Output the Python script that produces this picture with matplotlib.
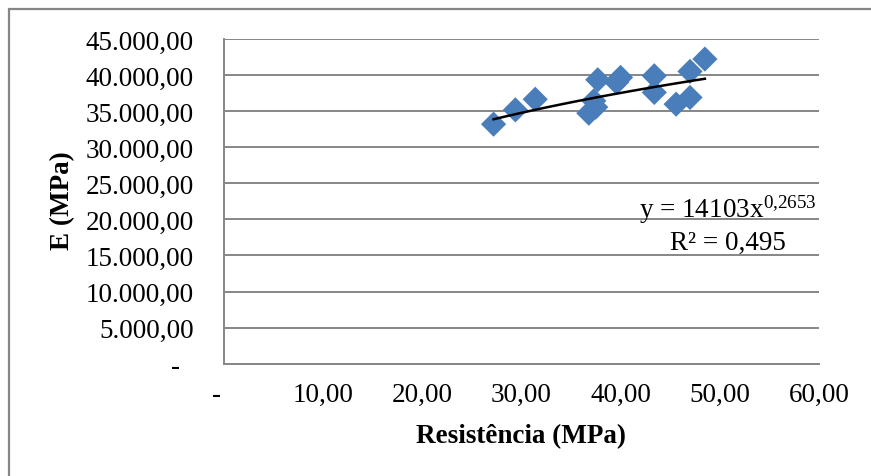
import matplotlib
matplotlib.use("Agg")
import matplotlib.pyplot as plt
import numpy as np
from matplotlib.patches import Rectangle
from matplotlib.ticker import FuncFormatter

# Resistência (MPa) vs E (MPa)
resistencia = [27.2, 29.4, 31.4, 36.8, 37.3, 37.5, 37.7, 39.6, 40.0,
               43.4, 43.4, 45.6, 47.0, 47.0, 48.5]
modulo_e = [33200, 35180, 36650, 34720, 36430, 35560, 39350, 38990, 39680,
            39900, 37600, 35970, 36900, 40510, 42220]

# power trendline as reported
coef_a = 14103
coef_b = 0.2653
r2 = 0.495

x_ticks = [0, 10, 20, 30, 40, 50, 60]
y_ticks = [0, 5000, 10000, 15000, 20000, 25000, 30000, 35000, 40000, 45000]

plt.rcParams.update({
    "font.family": "Liberation Serif",
    "font.size": 19.5,
    "mathtext.fontset": "custom",
    "mathtext.rm": "Liberation Serif",
    "mathtext.it": "Liberation Serif:italic",
    "mathtext.bf": "Liberation Serif:bold",
})


def br_fmt(v, pos):
    # accounting style: zero shown as a dash with some padding after it
    if v == 0:
        return "-  "
    s = f"{v:,.2f}"
    return s.replace(",", "X").replace(".", ",").replace("X", ".")


fig = plt.figure(figsize=(8.71, 4.77), dpi=100)
fig.patches.append(Rectangle((9 / 871, -0.1), 1.2, 1 - 10 / 477 + 0.1,
                             transform=fig.transFigure, fill=False,
                             edgecolor="#868686", linewidth=1.6))

ax = fig.add_axes([0.2568, 0.2354, 0.6835, 0.6807])
ax.set_xlim(0, 60)
ax.set_ylim(0, 45000)
ax.set_xticks(x_ticks)
ax.set_yticks(y_ticks)
ax.xaxis.set_major_formatter(FuncFormatter(br_fmt))
ax.yaxis.set_major_formatter(FuncFormatter(br_fmt))
ax.tick_params(length=0, labelsize=19.5, colors="black")
ax.tick_params(axis="y", pad=21.5)
ax.tick_params(axis="x", pad=13)

ax.grid(axis="y", color="#868686", linewidth=1.4)
ax.set_axisbelow(True)
for s in ["top", "right"]:
    ax.spines[s].set_visible(False)
for s in ["left", "bottom"]:
    ax.spines[s].set_color("#868686")
    ax.spines[s].set_linewidth(1.4)

ax.scatter(resistencia, modulo_e, marker="D", s=165, color="#4A7EBB",
           edgecolors="none", zorder=3)

xt = np.linspace(min(resistencia), max(resistencia), 100)
ax.plot(xt, coef_a * xt ** coef_b, color="black", linewidth=1.8, zorder=4)

exp_txt = str(coef_b).split(".")[1]
eq = f"y = {coef_a}x$^{{\\mathrm{{0{{,}}{exp_txt}}}}}$\nR² = {str(r2).replace('.', ',')}"
ax.text(50.8, 19400, eq, ha="center", va="center", fontsize=19.5,
        linespacing=1.25, zorder=5)

ax.set_xlabel("Resistência (MPa)", fontweight="bold", fontsize=19.5, labelpad=12)
ax.set_ylabel("E (MPa)", fontweight="bold", fontsize=19.5)
ax.yaxis.set_label_coords(-0.25, 0.505)

fig.savefig("out.png", dpi=100)
